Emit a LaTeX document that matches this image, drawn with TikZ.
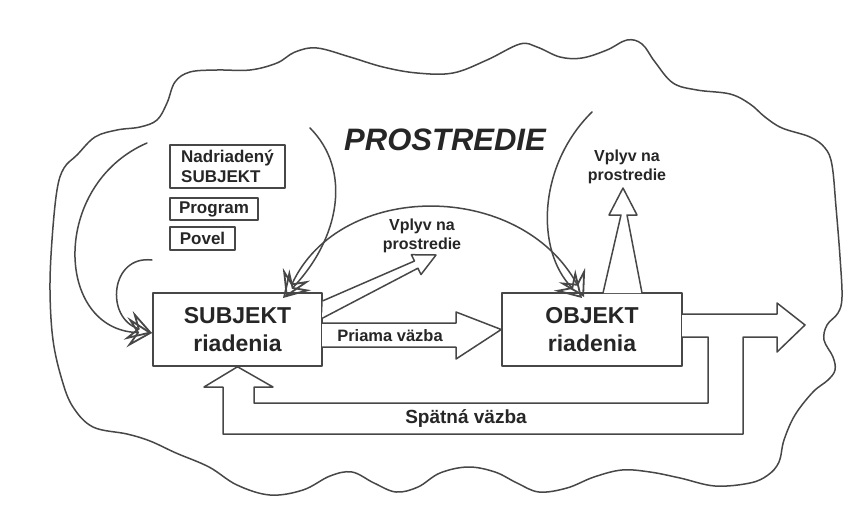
\documentclass[tikz,border=0pt]{standalone}
\usepackage{fontspec}
\setmainfont{Liberation Sans}
\usetikzlibrary{arrows.meta}
\tikzset{
  ln/.style={draw=black!72, line width=1.5pt, line join=round, line cap=round},
  bx/.style={ln, rectangle, inner sep=0pt, text=black!85, align=center},
  lbl/.style={inner sep=0pt, text=black!85, align=center},
  headA/.tip={Stealth[open, length=25pt 0, width=30pt 0, inset=10pt 0, line width=1.8pt]},
  openarr/.style={ln, -{headA}},
  dblarr/.style={ln, {headA}-{headA}},
  blk/.style={ln, fill=white},
}
\begin{document}
\begin{tikzpicture}[x=1pt,y=-1pt]
\useasboundingbox (0,0) rectangle (863,509);
\fill[white] (0,0) rectangle (863,509);

% cloud (environment)
\draw[ln] plot[smooth cycle, tension=0.6] coordinates {
(77,155) (95,137) (117,130) (140,127) (157,120) (167,103) (175,82) (190,72)
(217,70) (250,70) (277,63) (295,52) (317,48) (350,57) (383,67) (417,73)
(453,73) (487,60) (520,44) (537,47) (560,57) (582,58) (607,50) (627,40)
(642,44) (655,62) (673,83) (697,90) (730,94) (750,104) (765,117) (782,128)
(810,137) (825,148) (832,165) (836,207) (840,257) (842,297) (838,313) (827,325)
(824,340) (833,357) (835,370) (828,380) (813,392) (795,415) (784,440) (779,462)
(768,475) (750,483) (715,486) (680,478) (650,472) (622,470) (594,477) (567,488)
(539,492) (517,483) (495,472) (468,467) (440,473) (418,487) (396,492) (374,483)
(352,472) (330,476) (303,490) (270,495) (237,485) (209,467) (176,453) (150,441)
(127,434) (93,427) (73,407) (62,380) (53,340) (50,290) (52,240) (57,190) (64,168)};

% main boxes
\node[bx, minimum width=169pt, minimum height=73pt,
      font=\fontsize{23}{28}\selectfont\bfseries] (subj) at (237.5,329.5) {SUBJEKT\\riadenia};
\node[bx, minimum width=180pt, minimum height=73pt,
      font=\fontsize{23}{28}\selectfont\bfseries] (obj) at (592,329.5) {OBJEKT\\riadenia};

% small boxes
\node[bx, align=left, minimum width=115pt, minimum height=43pt,
      font=\fontsize{17}{20}\selectfont\bfseries] (nadr) at (227.5,166.5) {Nadriadený\\SUBJEKT};
\node[bx, minimum width=88pt, minimum height=22pt,
      font=\fontsize{17}{20}\selectfont\bfseries] (prog) at (214,209) {Program};
\node[bx, minimum width=65pt, minimum height=23pt,
      font=\fontsize{17}{20}\selectfont\bfseries] (povel) at (202.5,238.5) {Povel};

% labels
\node[lbl, font=\fontsize{31}{36}\selectfont\bfseries\itshape] (prost) at (445,140) {PROSTREDIE};
\node[lbl, font=\fontsize{16}{19}\selectfont\bfseries] (vplA) at (422,236) {Vplyv na\\prostredie};
\node[lbl, font=\fontsize{16}{19}\selectfont\bfseries] (vplB) at (627,167) {Vplyv na\\prostredie};

% block arrow: Subjekt -> influence on environment
\draw[blk] (subj.north east) ++(0,8.6) -- (414.5,261.0) -- (411.4,254.7) -- (436,255)
  -- (421.0,274.5) -- (417.9,268.2) -- (322,318.4);

% block arrow: Priama vazba
\draw[blk] (322,323) -- (456,323) -- (456,312) -- (obj.west) -- (456,359) -- (456,347) -- (322,347);
\node[lbl, font=\fontsize{16.5}{19}\selectfont\bfseries] (priama) at (390,336) {Priama väzba};

% block arrow: Objekt -> influence on environment
\draw[blk] (603,293) -- (621,215) -- (609,215) -- (623,188) -- (637,215) -- (627,215) -- (642,293);

% output and feedback block arrow
\coordinate (outtip) at (805,325);
\draw[blk] (682,314) -- (777,314) -- (777,303) -- (outtip) -- (777,352) -- (777,337)
  -- (743,337) -- (743,434) -- (223,434) -- (223,387) -- (204,387) -- (subj.south)
  -- (273,387) -- (254,387) -- (254,403) -- (708,403) -- (708,337) -- (682,337);
\node[lbl, font=\fontsize{19}{22}\selectfont\bfseries] (spatna) at (466,418) {Spätná väzba};

% thin curved arrows
\coordinate (sA) at (310,128);
\coordinate (tA) at (283,298);
\draw[openarr] (sA) .. controls (352,170) and (340,238) .. (tA);

\coordinate (aA) at (286,297);
\coordinate (aB) at (584,297);
\draw[dblarr] (aA) .. controls (340,180) and (520,180) .. (aB);

\coordinate (sB) at (592,112);
\coordinate (tB) at (582,298);
\draw[openarr] (sB) .. controls (538,165) and (535,250) .. (tB);

\coordinate (sC) at (147,143);
\coordinate (tC) at (152,333);
\draw[openarr] (sC) .. controls (50,185) and (55,330) .. (tC);

\coordinate (sD) at (152,260);
\draw[openarr] (sD) .. controls (110,255) and (105,318) .. (tC);

\end{tikzpicture}
\end{document}
